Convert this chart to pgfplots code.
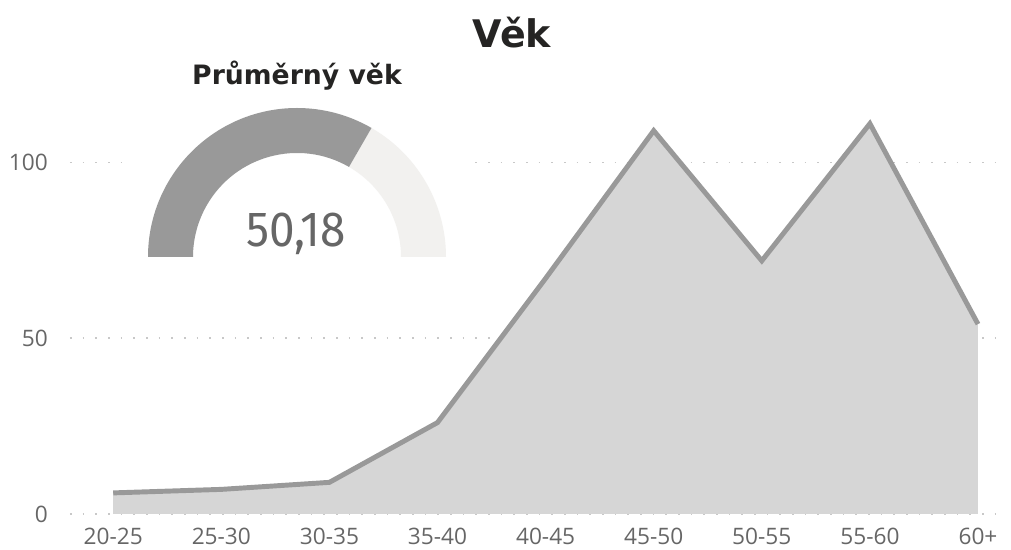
\documentclass[border=0pt]{standalone}
\usepackage{pgfplots}
\pgfplotsset{compat=1.18}
\usetikzlibrary{calc}
\usepackage{graphicx}
\usepackage{fontspec}
\setmainfont{Open Sans}
\newfontfamily\titlefont{DejaVu Sans}
\newfontfamily\valuefont{Fira Sans}
\definecolor{areafill}{HTML}{D6D6D6}
\definecolor{areaLine}{HTML}{999999}
\definecolor{gaugeDark}{HTML}{999999}
\definecolor{gaugeLight}{HTML}{F2F1EF}
\definecolor{gridc}{HTML}{C8C8C8}
\definecolor{tickc}{HTML}{666666}
\definecolor{titlec}{HTML}{252423}
\begin{document}
\begin{tikzpicture}
\path[use as bounding box] (0,0) rectangle (758.25pt,412.5pt);
\begin{axis}[
  at={(52.5pt,27pt)}, anchor=south west,
  scale only axis, width=701.25pt, height=316.5pt,
  xmin=-0.4, xmax=8.25, ymin=0, ymax=120,
  axis line style={draw=none},
  xtick={0,...,8},
  xticklabels={20-25,25-30,30-35,35-40,40-45,45-50,50-55,55-60,60+},
  ytick={0,50,100},
  ymajorgrids,
  major grid style={gridc, line width=1.2pt, dash pattern=on 1.2pt off 8.3pt},
  major tick length=0pt,
  tick style={draw=none},
  tick label style={font=\fontsize{17}{20}\selectfont, text=tickc},
  yticklabel style={anchor=east, inner sep=0pt, xshift=-16.5pt},
  xticklabel style={anchor=north, inner sep=0pt, yshift=-10.5pt},
  /pgf/number format/assume math mode=true,
  clip=false,
]
\addplot[draw=none, fill=areafill] coordinates {
(0,6) (1,7) (2,9) (3,26) (4,67) (5,109) (6,72) (7,111) (8,54)
} \closedcycle;
\addplot[areaLine, line width=3.7pt] coordinates {
(0,6) (1,7) (2,9) (3,26) (4,67) (5,109) (6,72) (7,111) (8,54)
};
\end{axis}
% gauge card
\fill[white] (91.5pt,206.25pt) rectangle (352.5pt,371.25pt);
\fill[gaugeLight] (222.75pt,219.75pt) ++(0:111.75pt) arc[start angle=0,end angle=60,radius=111.75pt]
  -- ($(222.75pt,219.75pt)+(60:78pt)$) arc[start angle=60,end angle=0,radius=78pt] -- cycle;
\fill[gaugeDark] (222.75pt,219.75pt) ++(180:111.75pt) arc[start angle=180,end angle=60,radius=111.75pt]
  -- ($(222.75pt,219.75pt)+(60:78pt)$) arc[start angle=60,end angle=180,radius=78pt] -- cycle;
\node[anchor=base, inner sep=0pt, text=tickc] at (222pt,227.25pt)
  {\scalebox{0.93}[1]{\valuefont\fontsize{37}{40}\selectfont 50,18}};
\node[anchor=base, inner sep=0pt, text=titlec] at (222.75pt,348.75pt)
  {\titlefont\bfseries\fontsize{20}{24}\selectfont Průměrný věk};
\node[anchor=base, inner sep=0pt, text=titlec] at (384pt,376.5pt)
  {\titlefont\bfseries\fontsize{28.5}{32}\selectfont Věk};
\end{tikzpicture}
\end{document}
